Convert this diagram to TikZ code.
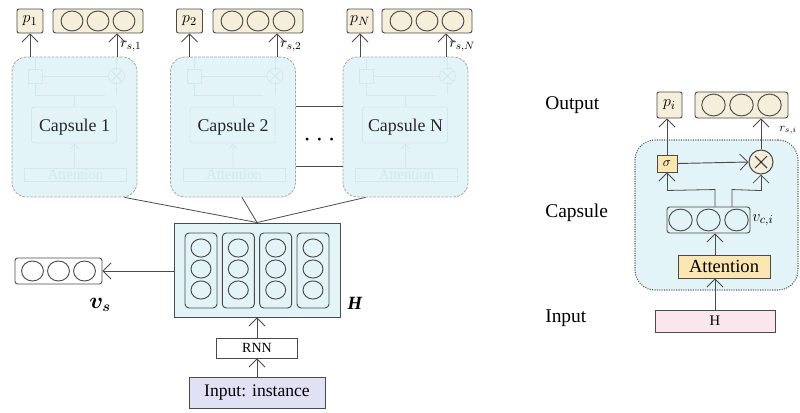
\documentclass[tikz,border=0pt]{standalone}
\usepackage{bm}
\usepackage{fontspec}
\setmainfont{Liberation Serif}
\usetikzlibrary{arrows.meta,calc}

\definecolor{capfill}{HTML}{E2F4F7}
\definecolor{boxfill}{HTML}{F4EEDA}
\definecolor{attfill}{HTML}{FBE5B0}
\definecolor{pinkfill}{HTML}{FAE6EC}
\definecolor{inputfill}{HTML}{E0E1F4}
\definecolor{edge}{HTML}{4A4A4A}
\definecolor{ghost}{HTML}{D3E8EC}

\newcommand\setfs[1]{\fontsize{#1}{#1}\selectfont}

\tikzset{
  arr/.style={draw=edge, line width=0.7pt, -{Straight Barb[length=6pt,width=12pt,line width=0.6pt]}},
  ln/.style={draw=edge, line width=0.6pt},
  ring/.style={draw=edge, line width=0.7pt},
  capsule/.style={draw=gray!70, dash pattern=on 2pt off 1pt, line width=0.6pt,
    fill=capfill, rounded corners=11pt, minimum width=125*0.75pt,
    minimum height=140*0.75pt, inner sep=0pt, font=\setfs{13.4}, text=black!85},
  pbox/.style={draw=edge, fill=boxfill, rounded corners=1.5pt, line width=0.7pt,
    minimum width=26*0.75pt, minimum height=24*0.75pt, inner sep=0pt, font=\setfs{13}},
  obox/.style={draw=edge, fill=boxfill, rounded corners=2pt, line width=0.7pt,
    minimum width=90*0.75pt, minimum height=24*0.75pt, inner sep=0pt},
  plainbox/.style={draw=edge, line width=0.7pt, inner sep=0pt},
  lab/.style={inner sep=0pt, font=\setfs{14.6}, anchor=west},
  ghostln/.style={draw=ghost, line width=0.6pt},
  ghostcap/.pic={
    \draw[ghostln] (-46,-58) rectangle (-32,-44);
    \draw[ghostln] (-32,-51) -- (34,-51);
    \draw[ghostln] (42,-51) circle[radius=6pt];
    \draw[ghostln] (37,-56) -- (47,-46) (37,-46) -- (47,-56);
    \draw[ghostln] (-39,-44) -- (-39,-32) -- (30,-32) (42,-45) -- (42,-32);
    \draw[ghostln] (-39,-58) -- (-39,-70) (42,-57) -- (42,-70);
    \draw[ghostln, rounded corners=2pt] (-43,-20) rectangle (42,16);
    \draw[ghostln] (0,-20) -- (0,-32);
    \draw[ghostln] (0,16) -- (0,40) (-4,22) -- (0,17) -- (4,22);
    \draw[ghostln] (-50,41) rectangle (52,54);
    \node[text=ghost, font=\setfs{11}, inner sep=0pt] at (1,47.5) {Attention};
  }
}

\begin{document}
\begin{tikzpicture}[x=0.75pt,y=-0.75pt]
\useasboundingbox (0,0) rectangle (800,412);

% ---------- capsule layer ----------
\node[capsule] (cap1) at (74.5,127) {Capsule 1};
\node[capsule] (cap2) at (233,127) {Capsule 2};
\node[capsule] (capN) at (405.5,127) {Capsule N};
\pic at (cap1) {ghostcap};
\pic at (cap2) {ghostcap};
\pic at (capN) {ghostcap};

% outputs of each capsule
\node[pbox] (p1) at (30,21) {$p_1$};
\node[obox] (o1) at (98,21) {};
\node[pbox] (p2) at (189.5,21) {$p_2$};
\node[obox] (o2) at (258,21) {};
\node[pbox] (pN) at (360,21) {$p_N$};
\node[obox] (oN) at (427,21) {};

\draw[arr] (p1.south |- cap1.north) -- (p1.south);
\draw[arr] (p2.south |- cap2.north) -- (p2.south);
\draw[arr] (pN.south |- capN.north) -- (pN.south);

\coordinate (r1) at ($(o1.south)+(19,0)$);
\coordinate (r2) at ($(o2.south)+(19,0)$);
\coordinate (rN) at ($(oN.south)+(19,0)$);
\draw[arr] (r1 |- cap1.north) -- (r1);
\draw[arr] (r2 |- cap2.north) -- (r2);
\draw[arr] (rN |- capN.north) -- (rN);
\node[inner sep=0pt, anchor=west, font=\setfs{11}] (lr1) at ($(r1)+(3,13)$) {$r_{s,1}$};
\node[inner sep=0pt, anchor=west, font=\setfs{11}] (lr2) at ($(r2)+(3,13)$) {$r_{s,2}$};
\node[inner sep=0pt, anchor=west, font=\setfs{11}] (lrN) at ($(rN)+(3,13)$) {$r_{s,N}$};

% links between capsule 2 and capsule N
\draw[ln] ($(cap2.east)+(0,-21)$) -- ($(capN.west)+(0,-21)$);
\draw[ln] ($(cap2.east)+(0,39)$) -- ($(capN.west)+(0,39)$);
\node[font=\setfs{20}\bfseries, inner sep=0pt] (dots) at (319.5,140) {$\cdots$};

% ---------- hidden states H ----------
\node[draw=edge, fill=capfill, line width=0.7pt, minimum width=166*0.75pt,
      minimum height=94*0.75pt, inner sep=0pt] (H) at (257,270) {};
\foreach \dx in {-56,-18.7,18.7,56} {
  \draw[ring, rounded corners=3pt] ($(H)+(\dx-16,-37)$) rectangle ($(H)+(\dx+16,38)$);
  \foreach \dy in {-22,-1,20}
    \draw[ring] ($(H)+(\dx,\dy)$) ellipse[x radius=7.5pt, y radius=6.8pt];
}
\node[font=\setfs{14}\bfseries\itshape, inner sep=0pt] (Hlab) at (355,303) {H};

\draw[ln] ($(cap1.south)+(50,0)$) -- (H.north);
\draw[ln] ($(cap2.south)+(9,0)$) -- (H.north);
\draw[ln] ($(capN.south)+(-40,0)$) -- (H.north);

% sentence vector
\node[plainbox, rounded corners=2pt, minimum width=87*0.75pt, minimum height=26*0.75pt] (vs) at (58.5,271) {};
\node[font=\setfs{16}, inner sep=0pt] (vslab) at (100,305) {$\bm{v_s}$};
\draw[arr] (H.west |- vs.east) -- (vs.east);

% encoder and input
\node[plainbox, minimum width=81*0.75pt, minimum height=20*0.75pt, font=\setfs{10.5}] (rnn) at (257,348) {RNN};
\node[plainbox, fill=inputfill, minimum width=136*0.75pt, minimum height=31*0.75pt, font=\setfs{13.2}] (inp) at (257,392.5) {Input: instance};
\draw[arr] (rnn.north) -- (H.south);
\draw[arr] (inp.north) -- (rnn.south);

% ---------- detail of one capsule ----------
\node[lab] (tout) at (545,105) {Output};
\node[lab] (tcap) at (545,213) {Capsule};
\node[lab] (tin) at (545,318) {Input};

\node[draw=edge!90, densely dotted, line width=0.8pt, fill=capfill, rounded corners=15pt,
      minimum width=163*0.75pt, minimum height=150*0.75pt, inner sep=0pt] (capi) at (716.5,215) {};

\node[pbox, minimum width=25*0.75pt, minimum height=26*0.75pt] (pi) at (669.5,105) {$p_i$};
\node[obox, minimum width=93*0.75pt, minimum height=26*0.75pt] (oi) at (741.5,105) {};
\node[draw=edge, fill=attfill, line width=0.7pt, minimum width=20*0.75pt,
      minimum height=17*0.75pt, inner sep=0pt, font=\setfs{10}] (sig) at (667,163.5) {$\sigma$};
\node[draw=edge, fill=boxfill, line width=0.8pt, circle, minimum size=24*0.75pt, inner sep=0pt] (mul) at (761,162) {};
\draw[edge, line width=0.8pt] ($(mul)+(-6,-6)$) -- ($(mul)+(6,6)$) ($(mul)+(-6,6)$) -- ($(mul)+(6,-6)$);
\fill[red!50!black] (mul) circle[radius=0.9pt];

\draw[arr] (sig.east) -- (mul.west);
\draw[arr] (sig.north) -- (sig.north |- pi.south);
\draw[arr] (mul.north) -- (mul.north |- oi.south);
\node[inner sep=0pt, anchor=west, font=\setfs{9}] (lri) at (779,130) {$r_{s,i}$};

\node[plainbox, rounded corners=2pt, minimum width=83*0.75pt, minimum height=26*0.75pt] (vci) at (708.5,220) {};
\node[inner sep=0pt, anchor=west, font=\setfs{13}] (vcilab) at (752,220) {$v_{c,i}$};

\coordinate (bl) at ($(vci.north)+(6.5,0)$);
\coordinate (br) at ($(vci.north)+(23.5,0)$);
\draw[ln] (bl) -- ($(bl)+(0,-17)$) -- ($(sig.south)+(0,18)$);
\draw[arr] ($(sig.south)+(0,18)$) -- (sig.south);
\draw[ln] (br) -- ($(br)+(0,-17)$) -- ($(mul.south)+(0,16)$);
\draw[arr] ($(mul.south)+(0,16)$) -- (mul.south);

\node[draw=edge, fill=attfill, line width=0.7pt, minimum width=92*0.75pt,
      minimum height=23*0.75pt, inner sep=0pt, font=\setfs{13.9}] (att) at (724,266.5) {Attention};
\node[draw=edge, fill=pinkfill, line width=0.7pt, minimum width=120*0.75pt,
      minimum height=22*0.75pt, inner sep=0pt, font=\setfs{11}] (hin) at (715,321) {H};

\draw[arr] (bl |- att.north) -- (bl |- vci.south);
\draw[arr] (hin.north) -- (hin.north |- att.south);

% ---------- circles inside the vector boxes ----------
\foreach \n in {o1,o2,oN,vs} \foreach \dx in {-26,0,26}
  \draw[ring] ($(\n)+(\dx,0)$) ellipse[x radius=8.2pt, y radius=7.5pt];
\foreach \n in {oi,vci} \foreach \dx in {-28,0,28}
  \draw[ring] ($(\n)+(\dx,0)$) ellipse[x radius=8.8pt, y radius=8.2pt];
\end{tikzpicture}
\end{document}
